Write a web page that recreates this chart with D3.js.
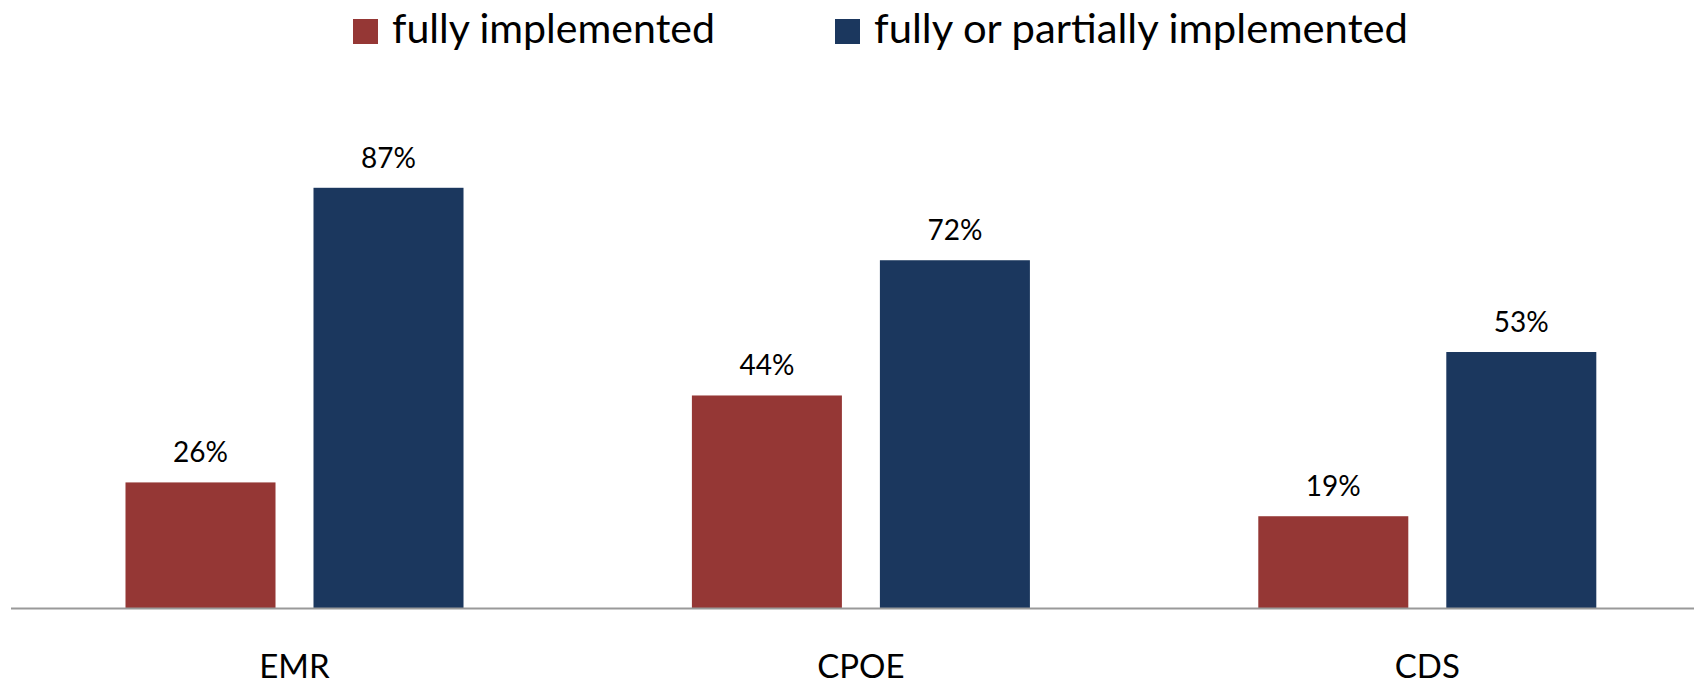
<!DOCTYPE html>
<html>
<head>
<meta charset="utf-8">
<script src="https://cdn.jsdelivr.net/npm/d3@7"></script>
<style>
  html, body { margin: 0; padding: 0; background: #fff; overflow: hidden; }
  svg { display: block; font-family: Lato, "Open Sans", sans-serif; }
</style>
</head>
<body>
<svg id="chart" width="1694" height="685"></svg>
<script>
const categories = ["EMR", "CPOE", "CDS"];
const seriesNames = ["fully implemented", "fully or partially implemented"];
const fullyImplemented = [26, 44, 19];
const fullyOrPartially = [87, 72, 53];
const seriesColors = ["#953735", "#1B375E"];

const seriesValues = [fullyImplemented, fullyOrPartially];

const svg = d3.select("#chart");
const W = 1694, H = 685;
const baseY = 608;

const x0 = d3.scaleBand().domain(categories).range([11.3, 11.3 + 3 * 566.4]).padding(0);
const x1 = d3.scaleBand().domain(seriesNames).range([0, x0.bandwidth()])
  .paddingInner(0.2021).paddingOuter(0.6074);
const y = d3.scaleLinear().domain([0, 100]).range([baseY, baseY - 483]);

const data = [];
categories.forEach((c, i) => {
  seriesNames.forEach((s, j) => {
    data.push({ cat: c, series: s, value: seriesValues[j][i], color: seriesColors[j] });
  });
});

// bars
svg.append("g").selectAll("rect").data(data).join("rect")
  .attr("x", d => x0(d.cat) + x1(d.series))
  .attr("y", d => y(d.value))
  .attr("width", x1.bandwidth())
  .attr("height", d => y(0) - y(d.value))
  .attr("fill", d => d.color);

// value labels
svg.append("g").selectAll("text").data(data).join("text")
  .attr("x", d => x0(d.cat) + x1(d.series) + x1.bandwidth() / 2)
  .attr("y", d => y(d.value) - 20)
  .attr("text-anchor", "middle")
  .attr("font-size", 28)
  .attr("fill", "#000")
  .text(d => d.value + "%");

// x axis (category labels via scale)
svg.append("g").selectAll("text").data(categories).join("text")
  .attr("x", d => x0(d) + x0.bandwidth() / 2)
  .attr("y", 678)
  .attr("text-anchor", "middle")
  .attr("font-size", 33)
  .attr("fill", "#000")
  .text(d => d);
svg.append("line")
  .attr("x1", 11).attr("x2", W)
  .attr("y1", baseY + 0.5).attr("y2", baseY + 0.5)
  .attr("stroke", "#999").attr("stroke-width", 2);

// legend
const legendX = [353, 835];
const legendWidths = [323, 534];
const legend = svg.append("g").selectAll("g").data(seriesNames).join("g")
  .attr("transform", (d, i) => `translate(${legendX[i]},19)`);
legend.append("rect").attr("width", 25).attr("height", 25)
  .attr("fill", (d, i) => seriesColors[i]);
legend.append("text")
  .attr("x", 39).attr("y", 24)
  .attr("font-size", 41)
  .attr("fill", "#000")
  .attr("textLength", (d, i) => legendWidths[i])
  .attr("lengthAdjust", "spacingAndGlyphs")
  .text(d => d);
</script>
</body>
</html>
